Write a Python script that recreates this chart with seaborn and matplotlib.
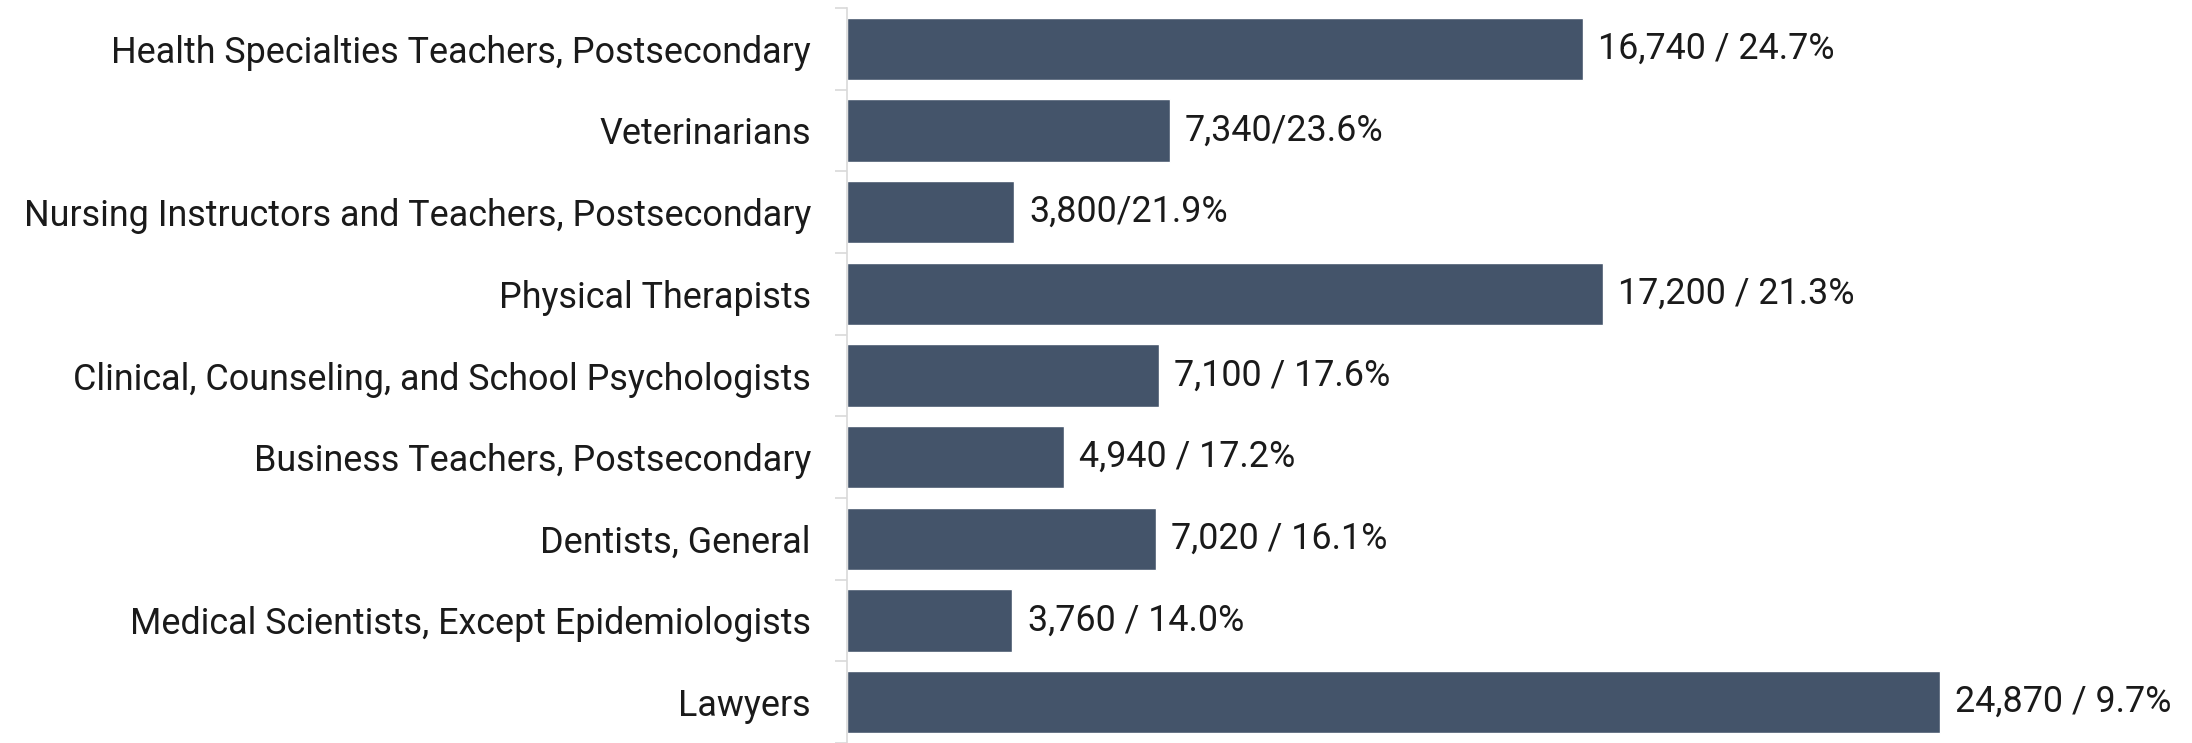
import matplotlib
matplotlib.use("Agg")
import matplotlib.pyplot as plt
import seaborn as sns
import pandas as pd
from matplotlib.ticker import FixedLocator

occupations = [
    "Health Specialties Teachers, Postsecondary",
    "Veterinarians",
    "Nursing Instructors and Teachers, Postsecondary",
    "Physical Therapists",
    "Clinical, Counseling, and School Psychologists",
    "Business Teachers, Postsecondary",
    "Dentists, General",
    "Medical Scientists, Except Epidemiologists",
    "Lawyers",
]
employment = [16740, 7340, 3800, 17200, 7100, 4940, 7020, 3760, 24870]
value_labels = [
    "16,740 / 24.7%",
    "7,340/23.6%",
    "3,800/21.9%",
    "17,200 / 21.3%",
    "7,100 / 17.6%",
    "4,940 / 17.2%",
    "7,020 / 16.1%",
    "3,760 / 14.0%",
    "24,870 / 9.7%",
]

df = pd.DataFrame({"occupation": occupations, "employment": employment})

sns.set_theme(style="white")
plt.rcParams["font.family"] = ["Roboto", "DejaVu Sans"]

W, H, DPI = 2192, 743, 100
fig = plt.figure(figsize=(W / DPI, H / DPI), dpi=DPI)
ax = fig.add_axes([847 / W, 0.0, 1 - 847 / W, (743 - 8) / H])

sns.barplot(data=df, y="occupation", x="employment", orient="h",
            color="#44546A", width=0.76, saturation=1, ax=ax)

ax.set_xlim(0, 30603)
ax.set_ylim(len(occupations) - 0.5, -0.5)
ax.set_xlabel("")
ax.set_ylabel("")
ax.set_xticks([])

for s in ["top", "right", "bottom"]:
    ax.spines[s].set_visible(False)
ax.spines["left"].set_color("#D9D9D9")
ax.spines["left"].set_linewidth(1.2)

FS = 25.8
ax.tick_params(axis="y", which="major", left=False, length=0, pad=26,
               labelsize=FS, labelcolor="#1a1a1a")
ax.yaxis.set_minor_locator(FixedLocator([i - 0.5 for i in range(len(occupations) + 1)]))
ax.tick_params(axis="y", which="minor", left=True, length=9, width=1.2,
               color="#D9D9D9")

for i, (v, lab) in enumerate(zip(employment, value_labels)):
    ax.annotate(lab, xy=(v, i), xytext=(11, 0), textcoords="offset points",
                va="center", ha="left", fontsize=FS, color="#1a1a1a")

fig.savefig("out.png", dpi=DPI)
